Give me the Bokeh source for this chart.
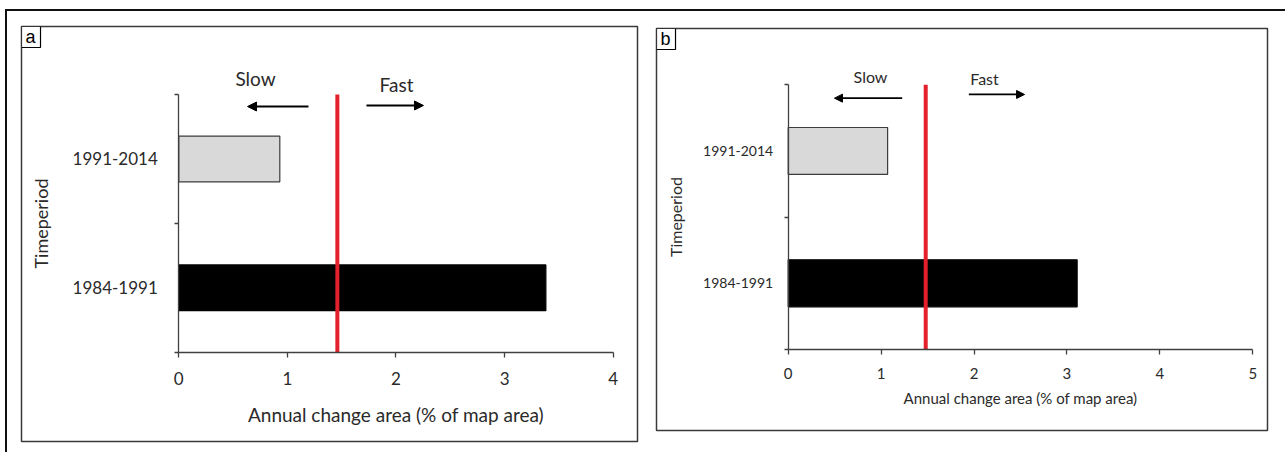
from bokeh.plotting import figure
from bokeh.models import (Range1d, LinearAxis, FixedTicker, Label, Arrow,
                          NormalHead, Div, ColumnDataSource)
from bokeh.layouts import row, column
from bokeh.embed import file_html
from bokeh.resources import INLINE

# ---------------- data ----------------
periods = ["1984-1991", "1991-2014"]          # bottom to top
change_a = [3.38, 0.93]                        # panel a, % of map area per year
change_b = [3.11, 1.07]                        # panel b
threshold_a = 1.46
threshold_b = 1.48
xticks_a = [0, 1, 2, 3, 4]
xticks_b = [0, 1, 2, 3, 4, 5]
bar_fill = ["#000000", "#d9d9d9"]
bar_line = ["#000000", "#3c3c3c"]
x_title = "Annual change area (% of map area)"
y_title = "Timeperiod"
slow_text = "Slow"
fast_text = "Fast"

FONT = "Lato"
TXT = "#2a2a2a"
AX = "#404040"


def make_panel(letter, values, threshold, xticks, width, height, borders,
               xr, yr, fs_xtick, fs_ytick, fs_title, fs_ytitle, y_std, ytitle_std,
               x_std, xtitle_std, slow_xy, fast_xy, slow_arrow, fast_arrow,
               fs_sf, head):
    left, right, top, bottom = borders
    p = figure(width=width, height=height, x_range=Range1d(*xr),
               y_range=Range1d(*yr), x_axis_type=None, y_axis_type=None,
               toolbar_location=None, output_backend="svg",
               min_border_left=left, min_border_right=right,
               min_border_top=top, min_border_bottom=bottom)
    p.outline_line_color = "#3a3a3a"
    p.outline_line_width = 1.5
    p.background_fill_color = "white"
    p.border_fill_color = "white"

    n = len(periods)
    ypos = [i + 0.5 for i in range(n)]
    src = ColumnDataSource(dict(y=ypos, right=values, fill=bar_fill,
                                line=bar_line, period=periods))
    p.hbar(y="y", left=0, right="right", height=0.355, source=src,
           fill_color="fill", line_color="line", line_width=1.2)

    # threshold
    p.segment(x0=[threshold], y0=[0], x1=[threshold], y1=[n],
              line_color="#e3202b", line_width=4)

    # x axis pinned at y = 0
    xa = LinearAxis(fixed_location=0, bounds=(xticks[0], xticks[-1]),
                    ticker=FixedTicker(ticks=xticks))
    xa.axis_line_color = AX
    xa.axis_line_width = 1.3
    xa.major_tick_line_color = AX
    xa.major_tick_line_width = 1.3
    xa.major_tick_out = 5
    xa.major_tick_in = 0
    xa.minor_tick_out = 0
    xa.minor_tick_in = 0
    xa.major_label_text_font = FONT
    xa.major_label_text_font_size = f"{fs_xtick}px"
    xa.major_label_text_color = TXT
    xa.major_label_standoff = x_std
    xa.axis_label = x_title
    xa.axis_label_text_font = FONT
    xa.axis_label_text_font_size = f"{fs_title}px"
    xa.axis_label_text_font_style = "normal"
    xa.axis_label_text_color = TXT
    xa.axis_label_standoff = xtitle_std
    p.add_layout(xa, "below")

    # y axis pinned at x = 0 ; boundaries as minor ticks, labels at centres
    ya = LinearAxis(fixed_location=0, bounds=(0, n),
                    ticker=FixedTicker(ticks=ypos, minor_ticks=list(range(n + 1))))
    ya.major_label_overrides = {yv: lab for yv, lab in zip(ypos, periods)}
    ya.axis_line_color = AX
    ya.axis_line_width = 1.3
    ya.major_tick_out = 0
    ya.major_tick_in = 0
    ya.minor_tick_out = 4
    ya.minor_tick_in = 0
    ya.minor_tick_line_color = AX
    ya.minor_tick_line_width = 1.3
    ya.major_label_text_font = FONT
    ya.major_label_text_font_size = f"{fs_ytick}px"
    ya.major_label_text_color = TXT
    ya.major_label_standoff = y_std
    ya.axis_label = y_title
    ya.axis_label_text_font = FONT
    ya.axis_label_text_font_size = f"{fs_ytitle}px"
    ya.axis_label_text_font_style = "normal"
    ya.axis_label_text_color = TXT
    ya.axis_label_standoff = ytitle_std
    p.add_layout(ya, "left")

    # Slow / Fast annotations
    for txt, (tx, ty) in ((slow_text, slow_xy), (fast_text, fast_xy)):
        p.add_layout(Label(x=tx, y=ty, text=txt, text_font=FONT,
                           text_font_size=f"{fs_sf}px", text_color=TXT,
                           text_align="center", text_baseline="middle"))
    for (x0, y0, x1, y1) in (slow_arrow, fast_arrow):
        p.add_layout(Arrow(end=NormalHead(size=head, fill_color="black",
                                          line_color="black", line_width=1),
                           x_start=x0, y_start=y0, x_end=x1, y_end=y1,
                           line_color="black", line_width=1.8))

    # panel letter
    p.add_layout(Label(x=xr[0], y=yr[1], text=letter, anchor="top_left",
                       text_font="Liberation Sans",
                       text_font_size="18px", text_color="black",
                       padding=(4, 5, 0, 1),
                       border_line_color="black", border_line_width=1.2,
                       background_fill_color="white"))
    return p


pa = make_panel("a", change_a, threshold_a, xticks_a, 637, 441, (14, 7, 15, 11),
                (-1.4485, 4.2238), (-0.693, 2.528), 17, 17, 19, 18, 17, 17, 15, 14,
                (0.706, 2.124), (2.005, 2.078),
                (1.194, 1.907, 0.633, 1.907), (1.728, 1.915, 2.253, 1.915),
                19, 9)

pb = make_panel("b", change_b, threshold_b, xticks_b, 641, 441, (12, 18, 17, 22),
                (-1.4177, 5.159), (-0.612, 2.4254), 15, 14, 15, 16, 11, 15, 13, 7,
                (0.886, 2.063), (2.113, 2.045),
                (1.227, 1.899, 0.498, 1.899), (1.944, 1.927, 2.544, 1.927),
                16, 8)

def blank(w, h):
    return Div(text="", width=w, height=h, margin=0)

def bar(w, h):
    return Div(text="", width=w, height=h, margin=0,
               styles={"background-color": "#111111"})

top = column(blank(1285, 9), row(blank(5, 2), bar(1280, 2), spacing=0), spacing=0)
body = row(blank(5, 441), bar(2, 441), column(pa, spacing=0), column(pb, spacing=0),
           spacing=0)
layout = column(top, body, spacing=0)

open("out.html", "w").write(file_html(layout, INLINE))
